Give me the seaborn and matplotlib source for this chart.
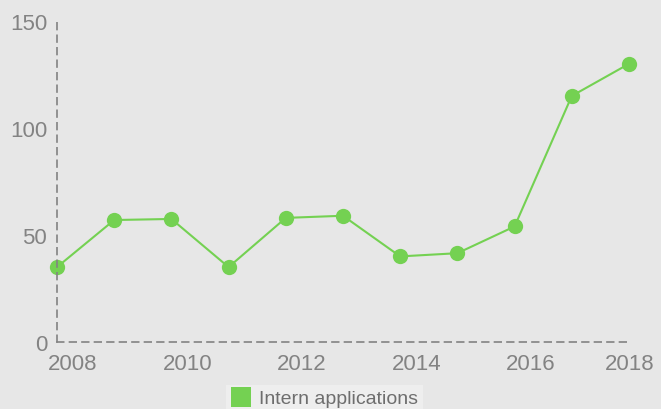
import matplotlib
matplotlib.use("Agg")
import matplotlib.pyplot as plt
import matplotlib.transforms as mtransforms
from matplotlib.lines import Line2D
import pandas as pd
import seaborn as sns

years = [2008, 2009, 2010, 2011, 2012, 2013, 2014, 2015, 2016, 2017, 2018]
applications = [35, 57, 57.5, 35, 58, 59, 40, 41.5, 54, 115, 130]
x_ticks = [2008, 2010, 2012, 2014, 2016, 2018]
y_ticks = [0, 50, 100, 150]
series_name = "Intern applications"

bg = "#e7e7e7"
green = "#74d152"
grey = "#838383"

sns.set_style("white", {"axes.facecolor": bg, "figure.facecolor": bg})
plt.rcParams["font.family"] = ["Liberation Sans", "DejaVu Sans"]

df = pd.DataFrame({"year": years, "value": applications})

fig = plt.figure(figsize=(6.61, 4.10), dpi=100)
ax = fig.add_axes([0.0862, 0.1634, 0.8654, 0.7829])

sns.lineplot(data=df, x="year", y="value", ax=ax, color=green, linewidth=1.5,
             marker="o", markersize=11, markeredgewidth=0, clip_on=False)

ax.set_xlim(2008, 2018)
ax.set_ylim(0, 150)
ax.set_xticks(x_ticks)
ax.set_yticks(y_ticks)
ax.set_xlabel("")
ax.set_ylabel("")

for side in ["top", "right"]:
    ax.spines[side].set_visible(False)
for side in ["left", "bottom"]:
    ax.spines[side].set_color(grey)
    ax.spines[side].set_linewidth(1.2)
    ax.spines[side].set_linestyle((0, (4, 3.5)))

ax.tick_params(axis="both", length=0, labelsize=16, labelcolor=grey)
ax.tick_params(axis="y", pad=7)
ax.tick_params(axis="x", pad=8)

# x labels sit a bit to the right of their tick positions (in pixels)
for i, lab in enumerate(ax.get_xticklabels()):
    dx = 16 / 100 if i < len(x_ticks) - 1 else 1 / 100
    lab.set_transform(lab.get_transform() +
                      mtransforms.ScaledTranslation(dx, 0, fig.dpi_scale_trans))

handle = Line2D([], [], linestyle="none", marker="s", markersize=14.5,
                markerfacecolor=green, markeredgewidth=0)
leg = fig.legend([handle], [series_name], loc="upper center",
                 bbox_to_anchor=(0.491, 0.0585), frameon=True, fontsize=14,
                 handlelength=1.0, handletextpad=0.45, borderpad=0.25,
                 borderaxespad=0, fancybox=False)
leg.get_frame().set_facecolor("#f0f0f0")
leg.get_frame().set_edgecolor("none")
for t in leg.get_texts():
    t.set_color("#6e6e6e")

fig.savefig("out.png", dpi=100, facecolor=bg)
